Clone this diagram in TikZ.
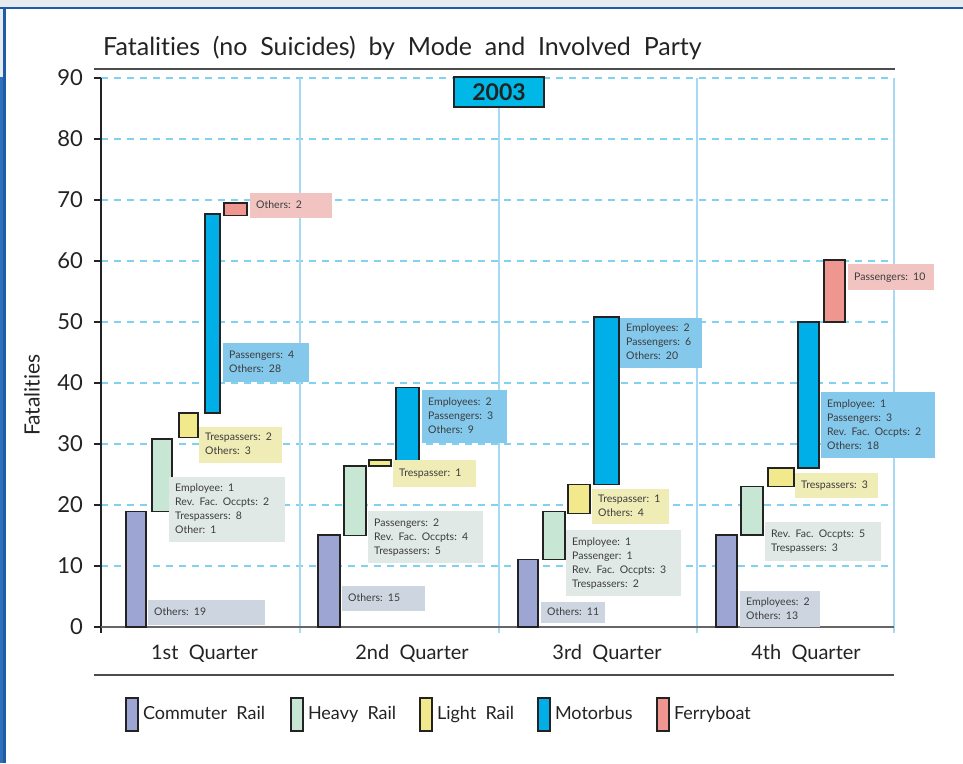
\documentclass[tikz,border=0pt]{standalone}
\usepackage{fontspec}
\setmainfont{Lato}[Ligatures=NoCommon, WordSpace=2]
\usetikzlibrary{positioning}

\definecolor{crail}{RGB}{157,166,211}
\definecolor{hrail}{RGB}{200,230,212}
\definecolor{lrail}{RGB}{242,232,140}
\definecolor{mbus}{RGB}{0,174,232}
\definecolor{ferry}{RGB}{239,150,145}
\definecolor{clab}{RGB}{205,214,224}
\definecolor{hlab}{RGB}{224,233,230}
\definecolor{llab}{RGB}{240,236,182}
\definecolor{mlab}{RGB}{132,200,236}
\definecolor{flab}{RGB}{242,196,193}
\definecolor{gridblue}{RGB}{128,210,240}
\definecolor{sepblue}{RGB}{165,218,242}
\definecolor{yearcyan}{RGB}{0,184,232}
\definecolor{framegray}{RGB}{230,235,240}
\definecolor{frameblue}{RGB}{31,92,168}
\definecolor{frameside}{RGB}{48,112,184}
\definecolor{ink}{RGB}{35,35,35}
\definecolor{labink}{RGB}{60,60,60}

% label lines never wrap
\newcommand{\labrows}[1]{\begin{tabular}{@{}l@{}}#1\end{tabular}}

\tikzset{
  bar/.style={draw=ink, line width=1.5pt},
  lab/.style={anchor=north west, inner xsep=6pt, inner ysep=0pt, align=left,
    font=\fontsize{10.5}{14}\selectfont, text=labink},
  grid line/.style={draw=gridblue, line width=1.2pt, dash pattern=on 7pt off 6pt},
  sep line/.style={draw=sepblue, line width=1.5pt},
  axis/.style={draw=ink, line width=1.3pt},
  base/.style={draw=black!60, line width=1.5pt},
  rule/.style={draw=black!70, line width=2pt},
  ticklab/.style={anchor=east, inner sep=0pt, font=\fontsize{22}{22}\selectfont, text=ink},
  qlab/.style={anchor=base, inner sep=0pt, font=\fontsize{20}{20}\selectfont, text=ink},
  legbox/.style={draw=ink, line width=1.8pt, minimum width=12pt, minimum height=33pt,
    inner sep=0pt, anchor=north west},
  legtext/.style={inner sep=0pt, text height=14.5pt, text depth=4pt,
    font=\fontsize{18}{18}\selectfont, text=ink},
  yearbox/.style={draw=ink, line width=2pt, fill=yearcyan, minimum width=90pt,
    minimum height=30pt, inner sep=0pt, font=\fontsize{23}{23}\selectfont\bfseries, text=ink},
}

\begin{document}
\begin{tikzpicture}[x=1pt,y=-1pt]
  \useasboundingbox (0,0) rectangle (963,763);

  % page frame
  \fill[framegray] (0,0) rectangle (963,7);
  \fill[framegray] (0,7) rectangle (3,77);
  \fill[frameside] (0,77) rectangle (3,763);
  \fill[frameblue] (0,6.5) rectangle (963,9);
  \fill[frameblue] (3,6.5) rectangle (5.5,763);

  % title
  \node[anchor=base west, inner sep=0pt, font=\fontsize{25}{25}\selectfont, text=ink]
    (title) at (103,55) {Fatalities (no Suicides) by Mode and Involved Party};
  \draw[rule] (94,69) -- (895,69);

  % plot: x in pixels, y in fatalities
  \begin{scope}[shift={(0,627)},y=6.1pt]

    \foreach \v in {10,20,...,90}
      \draw[grid line] (101,\v) -- (893,\v);
    \foreach \q in {300,697,894}
      \draw[sep line] (\q,90) -- (\q,-1);

    \node[yearbox] (year) at (499,87.7) {2003};
    \coordinate (yearfoot) at (499,-1);
    \draw[sep line] (year) -- (yearfoot);

    % axes
    \draw[axis] (101,90) -- (101,-1);
    \draw[base] (94,0) -- (894,0);
    \foreach \v in {0,10,...,90} {
      \draw[axis] (94,\v) -- (101,\v);
      \node[ticklab] (t\v) at (83,\v) {\v};
    }
    \node[rotate=90, inner sep=0pt, font=\fontsize{21}{21}\selectfont, text=ink]
      (ylab) at (32,38) {Fatalities};

    % 1st quarter
    \draw[bar, fill=crail] (126,0) rectangle (146,18.9);
    \draw[bar, fill=hrail] (152,18.9) rectangle (172,30.8);
    \draw[bar, fill=lrail] (179,31.1) rectangle (198,35.1);
    \draw[bar, fill=mbus] (205,35.1) rectangle (220,67.7);
    \draw[bar, fill=ferry] (224,67.5) rectangle (247,69.5);

    \node[lab, fill=clab, text width=105pt, minimum height=25pt] (c1) at (148,4.43)
      {\labrows{Others: 19}};
    \node[lab, fill=hlab, text width=104pt, minimum height=65pt] (h1) at (169,24.6)
      {\labrows{Employee: 1\\Rev. Fac. Occpts: 2\\Trespassers: 8\\Other: 1}};
    \node[lab, fill=llab, text width=71pt, minimum height=36pt] (l1) at (199,32.8)
      {\labrows{Trespassers: 2\\Others: 3}};
    \node[lab, fill=mlab, text width=74pt, minimum height=39pt] (m1) at (223,46.6)
      {\labrows{Passengers: 4\\Others: 28}};
    \node[lab, fill=flab, text width=70pt, minimum height=25pt] (f1) at (250,71.1)
      {\labrows{Others: 2}};

    % 2nd quarter
    \draw[bar, fill=crail] (318,0) rectangle (340,15.1);
    \draw[bar, fill=hrail] (344,15) rectangle (366,26.4);
    \draw[bar, fill=lrail] (369,26.4) rectangle (391,27.4);
    \draw[bar, fill=mbus] (396,27.3) rectangle (419,39.3);

    \node[lab, fill=clab, text width=71pt, minimum height=25pt] (c2) at (342,6.7)
      {\labrows{Others: 15}};
    \node[lab, fill=hlab, text width=103pt, minimum height=52pt] (h2) at (368,19.0)
      {\labrows{Passengers: 2\\Rev. Fac. Occpts: 4\\Trespassers: 5}};
    \node[lab, fill=llab, text width=71pt, minimum height=27pt] (l2) at (393,27.4)
      {\labrows{Trespasser: 1}};
    \node[lab, fill=mlab, text width=73pt, minimum height=53pt] (m2) at (422,38.9)
      {\labrows{Employees: 2\\Passengers: 3\\Others: 9}};

    % 3rd quarter
    \draw[bar, fill=crail] (518,0) rectangle (538,11.1);
    \draw[bar, fill=hrail] (543,11.1) rectangle (565,18.9);
    \draw[bar, fill=lrail] (568,18.6) rectangle (590,23.4);
    \draw[bar, fill=mbus] (594,23.4) rectangle (619,50.8);

    \node[lab, fill=clab, text width=52pt, minimum height=21pt] (c3) at (541,4.1)
      {\labrows{Others: 11}};
    \node[lab, fill=hlab, text width=103pt, minimum height=66pt] (h3) at (566,15.9)
      {\labrows{Employee: 1\\Passenger: 1\\Rev. Fac. Occpts: 3\\Trespassers: 2}};
    \node[lab, fill=llab, text width=65pt, minimum height=35pt] (l3) at (592,22.6)
      {\labrows{Trespasser: 1\\Others: 4}};
    \node[lab, fill=mlab, text width=70pt, minimum height=50pt] (m3) at (620,50.7)
      {\labrows{Employees: 2\\Passengers: 6\\Others: 20}};

    % 4th quarter
    \draw[bar, fill=crail] (716,0) rectangle (737,15.1);
    \draw[bar, fill=hrail] (741,15.1) rectangle (763,23);
    \draw[bar, fill=lrail] (768,23) rectangle (794,26.1);
    \draw[bar, fill=mbus] (798,26.1) rectangle (819,50);
    \draw[bar, fill=ferry] (824,50) rectangle (845,60.2);

    \node[lab, fill=clab, text width=68pt, minimum height=36pt] (c4) at (740,5.9)
      {\labrows{Employees: 2\\Others: 13}};
    \node[lab, fill=hlab, text width=104pt, minimum height=39pt] (h4) at (765,17.2)
      {\labrows{Rev. Fac. Occpts: 5\\Trespassers: 3}};
    \node[lab, fill=llab, text width=71pt, minimum height=25pt] (l4) at (795,25.2)
      {\labrows{Trespassers: 3}};
    \node[lab, fill=mlab, text width=102pt, minimum height=66pt] (m4) at (821,38.5)
      {\labrows{Employee: 1\\Passengers: 3\\Rev. Fac. Occpts: 2\\Others: 18}};
    \node[lab, fill=flab, text width=74pt, minimum height=26pt] (f4) at (848,59.5)
      {\labrows{Passengers: 10}};

    % quarter names
    \node[qlab] (q1) at (204.5,-5.25) {1st Quarter};
    \node[qlab] (q2) at (412,-5.25) {2nd Quarter};
    \node[qlab] (q3) at (607,-5.25) {3rd Quarter};
    \node[qlab] (q4) at (806,-5.25) {4th Quarter};
  \end{scope}

  \draw[rule] (94,675) -- (894,675);

  % legend
  \node[legbox, fill=crail] (kc) at (125,697) {};
  \node[legtext, right=4pt of kc] (kct) {Commuter Rail};
  \node[legbox, fill=hrail] (kh) at (290,697) {};
  \node[legtext, right=4pt of kh] (kht) {Heavy Rail};
  \node[legbox, fill=lrail] (kl) at (419,697) {};
  \node[legtext, right=4pt of kl] (klt) {Light Rail};
  \node[legbox, fill=mbus] (km) at (537,697) {};
  \node[legtext, right=4pt of km] (kmt) {Motorbus};
  \node[legbox, fill=ferry] (kf) at (656,697) {};
  \node[legtext, right=4pt of kf] (kft) {Ferryboat};

\end{tikzpicture}
\end{document}
